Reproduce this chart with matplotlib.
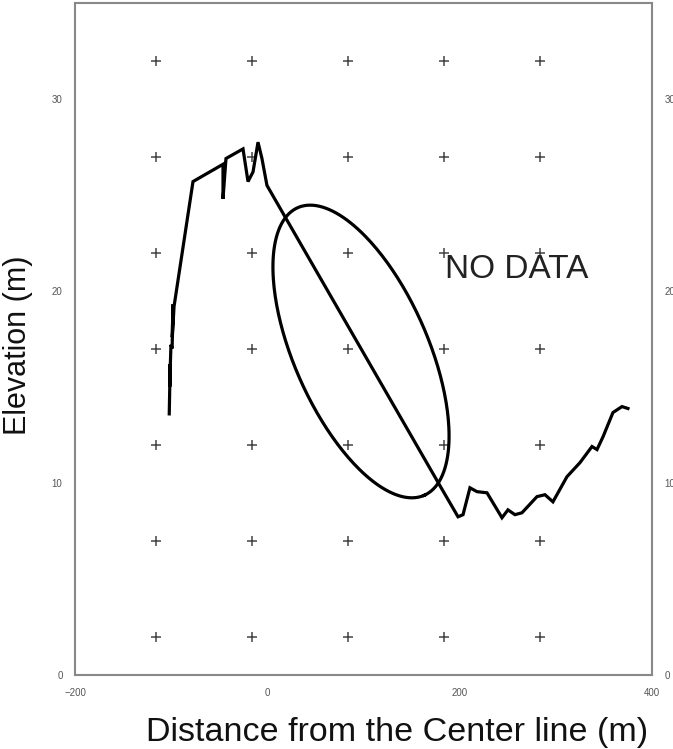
import numpy as np
import matplotlib
matplotlib.use("Agg")
import matplotlib.pyplot as plt

# profile (distance from center line, elevation)
dist = [-102, -101, -101.6, -100.2, -99.0, -98.2, -98.8, -97.0, -77.3,
        -46.1, -46.1, -43.0, -25.3, -20.1, -14.9, -9.7, -5.6, -0.4,
        179.5, 198.3, 203.5, 210.7, 218.0, 228.4, 244.0, 250.2, 257.5,
        264.8, 280.4, 288.7, 297.0, 311.6, 325.1, 337.6, 342.8, 349.0,
        359.4, 368.8, 375.0]
elev = [13.6, 16.2, 15.0, 17.2, 17.0, 19.3, 17.6, 19.2, 25.7,
        26.6, 24.8, 26.9, 27.4, 25.7, 26.2, 27.75, 26.9, 25.5,
        9.86, 8.24, 8.35, 9.75, 9.55, 9.49, 8.19, 8.6, 8.35,
        8.45, 9.29, 9.39, 9.02, 10.33, 11.06, 11.9, 11.74, 12.4,
        13.67, 13.98, 13.88]

# grid of + marks
grid_x = [-116, -16, 84, 184, 284]
grid_y = [2, 7, 12, 17, 22, 27, 32]

# ellipse: center and two conjugate half-axis vectors (data units)
ell_center = (97.4, 16.85)
ell_a = (65.8, -7.49)
ell_b = (63.7, 1.41)

xticks = [-200, 0, 200, 400]
yticks = [0, 10, 20, 30]

plt.rcParams['font.family'] = ['Liberation Sans', 'DejaVu Sans']

fig = plt.figure(figsize=(6.73, 7.49), dpi=100)
ax = fig.add_axes([75/673, 74/749, 577/673, 672/749])

gx, gy = np.meshgrid(grid_x, grid_y)
ax.plot(gx.ravel(), gy.ravel(), '+', color='#444444', markersize=6.5, mew=1.1, ls='none')

ax.plot(dist, elev, color='black', lw=2.3, solid_joinstyle='miter')

t = np.linspace(0, 2*np.pi, 300)
ex = ell_center[0] + np.cos(t)*ell_a[0] + np.sin(t)*ell_b[0]
ey = ell_center[1] + np.cos(t)*ell_a[1] + np.sin(t)*ell_b[1]
ax.plot(ex, ey, color='black', lw=2.3)

ax.text(259, 21.1, 'NO DATA', fontsize=24, color='#222222', ha='center', va='center')

ax.set_xlim(-200, 400)
ax.set_ylim(0, 35)
ax.set_xticks(xticks)
ax.set_yticks(yticks)
ax.tick_params(length=0, labelsize=7, labelcolor='#555555', labelright=True, pad=9)
for s in ax.spines.values():
    s.set_color('#888888')
    s.set_linewidth(1.5)

fig.text(397/673, 1 - 733/749, 'Distance from the Center line (m)', fontsize=24.5,
         ha='center', va='center', color='#111111')
fig.text(18/673, 1 - 345/749, 'Elevation (m)', fontsize=22, rotation=90,
         ha='center', va='center', color='#111111')

fig.savefig('out.png', dpi=100)
